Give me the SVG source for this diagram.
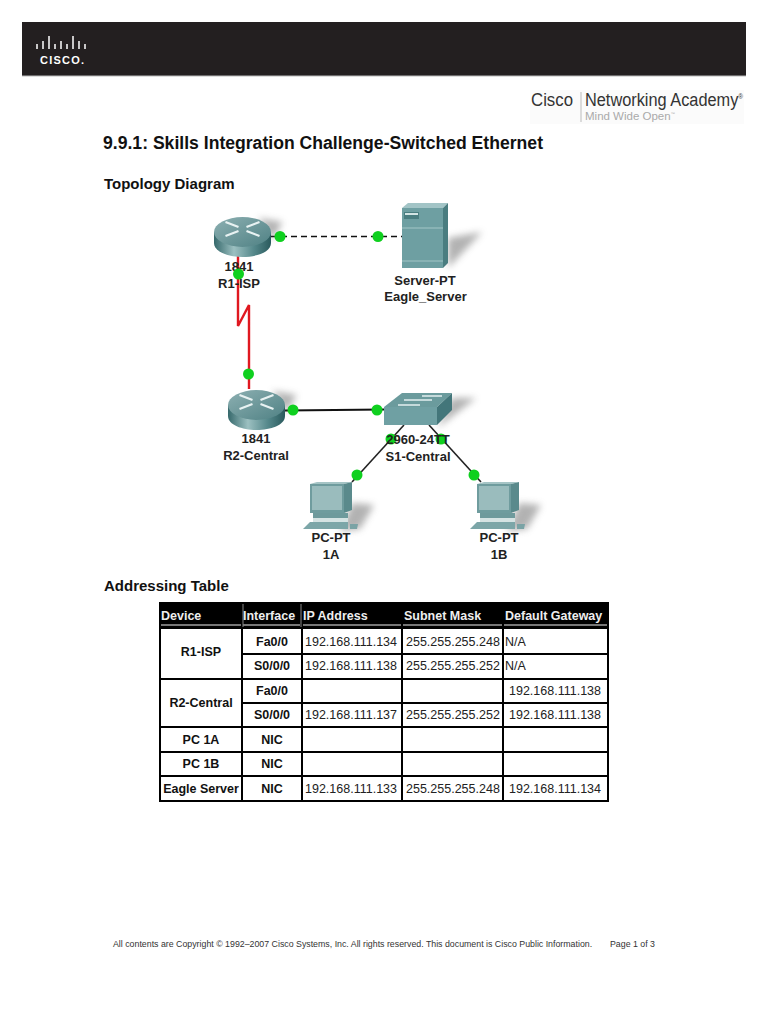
<svg xmlns="http://www.w3.org/2000/svg" width="768" height="1024" viewBox="0 0 768 1024">
<style>
text{font-family:"Liberation Sans",Arial,sans-serif;fill:#111}
.b{font-weight:bold}
.lab{font-weight:bold;font-size:13px;text-anchor:middle;fill:#222}
.sec{font-weight:bold;font-size:15px}
.td{font-size:12.500px;fill:#222}
.tb{font-size:12.500px;font-weight:bold;text-anchor:middle}
.th{font-size:12.500px;font-weight:bold;fill:#eee}
.gl{stroke:#000;stroke-width:2;fill:none}
.dot{fill:#0fd01f}
.shadow{fill:#666;opacity:.5;filter:url(#bl)}
</style>
<defs>
<filter id="bl" x="-40%" y="-40%" width="180%" height="180%"><feGaussianBlur stdDeviation="3.500"/></filter>
<linearGradient id="rb" x1="0" x2="1" y1="0" y2="0"><stop offset="0" stop-color="#35686b"/><stop offset=".35" stop-color="#9cc0c1"/><stop offset=".7" stop-color="#55888b"/><stop offset="1" stop-color="#2a5a5d"/></linearGradient>
<linearGradient id="rt" x1="0" x2="1" y1="0" y2="1"><stop offset="0" stop-color="#8db0b2"/><stop offset="1" stop-color="#4f8184"/></linearGradient>
<g id="router">
<path class="shadow" d="M16 -18 L40 -14 L30 4 Z"/>
<path d="M-28.500 -4 V7 C-28.500 16 -14 21 0 21 C14 21 28.500 16 28.500 7 V-4 Z" fill="url(#rb)"/>
<ellipse cx="0" cy="-4" rx="28.500" ry="15" fill="url(#rt)"/>
<path d="M-17 -14 L-4 -9 M17 0 L4 -5 M17 -14 L4 -9 M-17 0 L-4 -5" stroke="#e8f2f2" stroke-width="2.200" fill="none"/>
</g>
<g id="pc">
<path class="shadow" d="M42 22 L64 24 L50 48 L30 50 Z"/>
<path d="M0 3 L7 1 H42 L34 3 Z" fill="#a5c4c5"/>
<path d="M34 3 L42 1 V29 L34 32 Z" fill="#5a8a8c"/>
<rect x="0" y="3" width="34" height="29" fill="#6f9c9e"/>
<rect x="2" y="5" width="30" height="24" fill="#9abcbd"/>
<rect x="3" y="32" width="35" height="5" fill="#6e9a9c"/>
<path d="M3 37 H38 V41 H3 Z" fill="#d5e3e3"/>
<path d="M0 41 H38 L38 48 H-7 Z" fill="#7ca6a8"/>
<path d="M40 43 H48 L47 48 H40 Z" fill="#7aa3a5"/>
</g>
</defs>
<rect width="768" height="1024" fill="#fff"/>
<g id="header">
<rect x="22" y="22" width="724" height="54" fill="#231f20"/>
<path d="M22 76 H746" stroke="#bbb" stroke-width="1"/>
<path d="M37 44 V49 M43 41 V49 M49 36 V49 M55 44 V49 M61 41 V49 M67 44 V49 M73 36 V49 M79 41 V49 M85 44 V49" stroke="#fff" stroke-width="1.500" fill="none"/>
<text x="40" y="64" class="b" font-size="11" textLength="44" style="fill:#fff">CISCO.</text>
</g>
<g id="academy">
<rect x="530" y="90" width="214" height="34" fill="#fbfbfb"/>
<text x="531" y="106" font-size="18" textLength="42" lengthAdjust="spacingAndGlyphs" style="fill:#333">Cisco</text>
<path d="M581 92 V122" stroke="#bbb" stroke-width="1"/>
<text x="585" y="106" font-size="18" textLength="158" lengthAdjust="spacingAndGlyphs" style="fill:#333">Networking Academy<tspan font-size="7" dy="-7">®</tspan></text>
<text x="585" y="120" font-size="10.500" textLength="90" lengthAdjust="spacingAndGlyphs" style="fill:#aaa">Mind Wide Open<tspan font-size="4" dy="-5">™</tspan></text>
</g>
<text x="103" y="149" class="b" font-size="18" textLength="440" lengthAdjust="spacingAndGlyphs">9.9.1: Skills Integration Challenge-Switched Ethernet</text>
<text x="104" y="189" class="sec">Topology Diagram</text>
<g id="connectors">
<path d="M271 236.500 H402" stroke="#111" stroke-width="1.500" stroke-dasharray="6 4" fill="none"/>
<path d="M238 255 V326 L249 305 V389" stroke="#e01820" stroke-width="2.400" fill="none"/>
<path d="M285 410.500 L384 409.500" stroke="#111" stroke-width="2" fill="none"/>
<path d="M404 425 L352 482" stroke="#222" stroke-width="1.600" fill="none"/>
<path d="M429 425 L481 482" stroke="#222" stroke-width="1.600" fill="none"/>
</g>
<g id="R1-ISP">
<use href="#router" x="242.500" y="236"/>
<text class="lab" x="239" y="271">1841</text>
<text class="lab" x="239" y="288">R1-ISP</text>
</g>
<g id="Eagle_Server">
<path class="shadow" d="M448 238 L482 232 L448 268 Z"/>
<path d="M402 208 L408 203 H448 L443 208 Z" fill="#a2c4c6"/>
<path d="M443 208 L448 203 V263 L443 268 Z" fill="#4a7d80"/>
<rect x="402" y="208" width="41" height="60" fill="#6e9fa2"/>
<path d="M402 228 H443 M402 261 H443" stroke="#a3c6c7" stroke-width="1"/>
<rect x="404" y="212" width="15" height="7" fill="#4a7e81"/>
<rect x="405" y="213" width="13" height="2" fill="#d3e5e5"/>
<text class="lab" x="425" y="285">Server-PT</text>
<text class="lab" x="425.500" y="301">Eagle_Server</text>
</g>
<g id="R2-Central">
<use href="#router" x="256.500" y="409"/>
<text class="lab" x="256" y="443">1841</text>
<text class="lab" x="256" y="460">R2-Central</text>
</g>
<g id="S1-Central">
<path class="shadow" d="M452 398 L476 398 L437 428 Z"/>
<path d="M384 407 L402 393 H452 L437 407 Z" fill="#6b9b9d"/>
<path d="M437 407 L452 393 V410 L437 425 Z" fill="#43767a"/>
<rect x="384" y="407" width="53" height="18" fill="#6fa0a3"/>
<path d="M422 396 H442 M404 400 H432 M398 405 H420" stroke="#e4efef" stroke-width="1.500" fill="none"/>
</g>
<g id="endpoints">
<circle class="dot" cx="280" cy="236.500" r="5.500"/>
<circle class="dot" cx="378" cy="236.500" r="5.500"/>
<circle class="dot" cx="238.500" cy="274" r="5.500"/>
<circle class="dot" cx="248.500" cy="374" r="5.500"/>
<circle class="dot" cx="293" cy="410" r="5.500"/>
<circle class="dot" cx="377" cy="410" r="5.500"/>
<circle class="dot" cx="391" cy="439" r="5.500"/>
<circle class="dot" cx="441" cy="439" r="5.500"/>
<circle class="dot" cx="357" cy="475" r="5.500"/>
<circle class="dot" cx="474" cy="475" r="5.500"/>
</g>
<text class="lab" x="418" y="444">2960-24TT</text>
<text class="lab" x="418" y="461">S1-Central</text>
<g id="PC-1A">
<use href="#pc" x="310" y="481"/>
<text class="lab" x="331" y="542">PC-PT</text>
<text class="lab" x="331" y="559">1A</text>
</g>
<g id="PC-1B">
<use href="#pc" x="477" y="481"/>
<text class="lab" x="499" y="542">PC-PT</text>
<text class="lab" x="499" y="559">1B</text>
</g>
<text x="104" y="591" class="sec">Addressing Table</text>
<g id="table">
<rect x="160" y="603" width="448" height="25" fill="#000"/>
<path d="M161 625 H241 M243 625 H300 M303 625 H401 M403 625 H502 M504 625 H607" stroke="#777" stroke-width="2"/>
<path d="M243 604 V628 M301 604 V628" stroke="#888" stroke-width="1"/>
<text class="th" x="161" y="620">Device</text>
<text class="th" x="243" y="620">Interface</text>
<text class="th" x="303" y="620">IP Address</text>
<text class="th" x="404" y="620">Subnet Mask</text>
<text class="th" x="505" y="620">Default Gateway</text>
<rect class="gl" x="160" y="603" width="448" height="198"/>
<path class="gl" d="M242 628 V801 M302 628 V801 M402 628 V801 M503 628 V801 M160 628 H608 M242 654 H608 M160 679 H608 M242 703 H608 M160 727 H608 M160 752 H608 M160 776 H608"/>
<text class="tb" x="201" y="656">R1-ISP</text>
<text class="tb" x="201" y="707">R2-Central</text>
<text class="tb" x="201" y="744">PC 1A</text>
<text class="tb" x="201" y="768">PC 1B</text>
<text class="tb" x="201" y="793">Eagle Server</text>
<text class="tb" x="272" y="646">Fa0/0</text>
<text class="tb" x="272" y="670">S0/0/0</text>
<text class="tb" x="272" y="695">Fa0/0</text>
<text class="tb" x="272" y="719">S0/0/0</text>
<text class="tb" x="272" y="744">NIC</text>
<text class="tb" x="272" y="768">NIC</text>
<text class="tb" x="272" y="793">NIC</text>
<text class="td" x="305" y="646">192.168.111.134</text>
<text class="td" x="406" y="646">255.255.255.248</text>
<text class="td" x="505" y="646">N/A</text>
<text class="td" x="305" y="670">192.168.111.138</text>
<text class="td" x="406" y="670">255.255.255.252</text>
<text class="td" x="505" y="670">N/A</text>
<text class="td" x="509" y="695">192.168.111.138</text>
<text class="td" x="305" y="719">192.168.111.137</text>
<text class="td" x="406" y="719">255.255.255.252</text>
<text class="td" x="509" y="719">192.168.111.138</text>
<text class="td" x="305" y="793">192.168.111.133</text>
<text class="td" x="406" y="793">255.255.255.248</text>
<text class="td" x="509" y="793">192.168.111.134</text>
</g>
<g id="footer">
<text x="113" y="947" font-size="8.800" style="fill:#333">All contents are Copyright © 1992–2007 Cisco Systems, Inc. All rights reserved. This document is Cisco Public Information.</text>
<text x="610" y="947" font-size="8.800" style="fill:#333">Page 1 of 3</text>
</g>
</svg>
